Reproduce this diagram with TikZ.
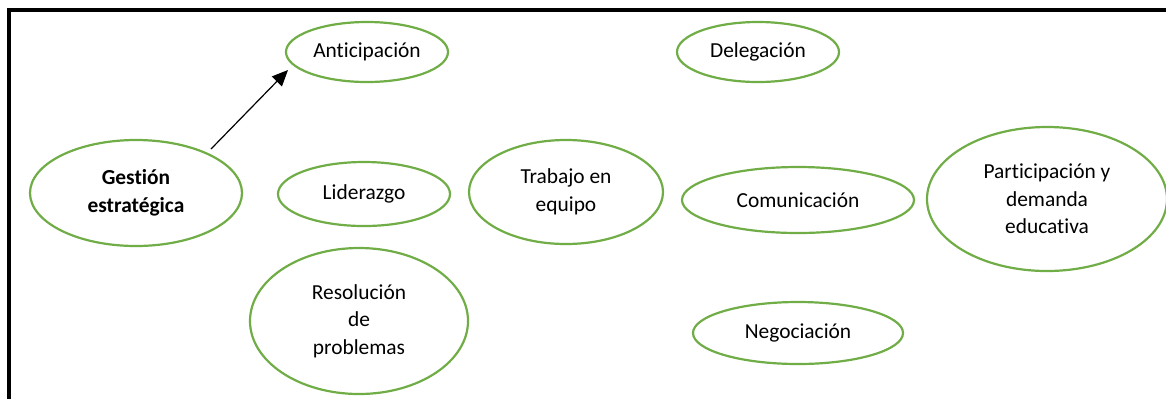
\documentclass[tikz,border=0pt]{standalone}
\usepackage{fontspec}
\setmainfont{Carlito}[Ligatures=NoCommon]
\usetikzlibrary{shapes.geometric,arrows.meta}
\definecolor{lgreen}{RGB}{112,173,71}
\tikzset{
  oval/.style={ellipse, draw=lgreen, line width=1.1pt, inner sep=0pt, align=center,
    font=\fontsize{10.7pt}{13.8pt}\selectfont, text=black},
  framebar/.style={line width=1.6pt, black},
  link/.style={line width=0.6pt, -{Triangle[length=8pt,width=7pt]}}
}
\begin{document}
\begin{tikzpicture}[x=0.5pt,y=-0.5pt]
\useasboundingbox (0,0) rectangle (1166,398);
\coordinate (ftl) at (9,10);
\coordinate (ftr) at (1170,10);
\coordinate (fbl) at (9,402);
\draw[framebar] (fbl) -- (ftl) -- (ftr);

\node[oval, minimum width=81pt, minimum height=30pt] (antic) at (367,52) {Anticipación};
\node[oval, minimum width=81pt, minimum height=30pt] (deleg) at (758,52) {Delegación};
\node[oval, minimum width=106pt, minimum height=53pt, font=\fontsize{10.7pt}{13.8pt}\selectfont\bfseries] (gest) at (136,193) {Gestión\\estratégica};
\node[oval, minimum width=86pt, minimum height=32pt] (lider) at (364,194) {Liderazgo};
\node[oval, minimum width=97pt, minimum height=52pt] (trab) at (566,192) {Trabajo en\\equipo};
\node[oval, minimum width=116pt, minimum height=33pt] (comu) at (798,200) {Comunicación};
\node[oval, minimum width=120pt, minimum height=72pt] (part) at (1047,199) {Participación y\\demanda\\educativa};
\node[oval, minimum width=109pt, minimum height=73pt] (reso) at (359,321) {Resolución\\de\\problemas};
\node[oval, minimum width=105pt, minimum height=31pt] (nego) at (798,333) {Negociación};

\coordinate (astart) at (211,149);
\coordinate (aend) at (288,70);
\draw[link] (astart) -- (aend);
\end{tikzpicture}
\end{document}
